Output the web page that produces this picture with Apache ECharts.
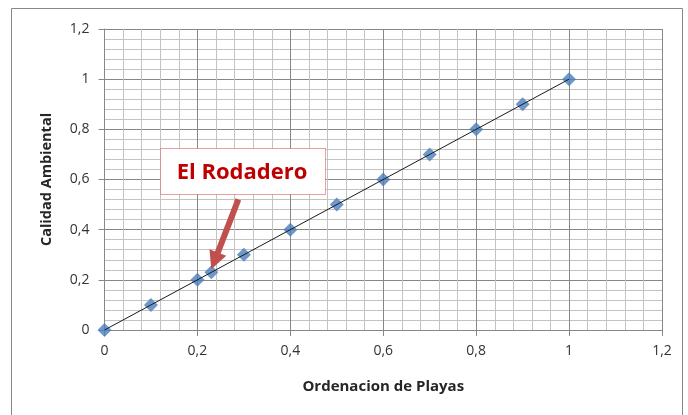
<!DOCTYPE html>
<html>
<head>
<meta charset="utf-8">
<script src="https://cdn.jsdelivr.net/npm/echarts@6/dist/echarts.min.js"></script>
<style>
  html, body { margin: 0; padding: 0; background: #fff; }
  #chart { width: 688px; height: 415px; }
</style>
</head>
<body>
<div id="chart"></div>
<script>
  // playas: x = ordenacion, y = calidad ambiental
  var ordenacion = [0, 0.1, 0.2, 0.23, 0.3, 0.4, 0.5, 0.6, 0.7, 0.8, 0.9, 1];
  var calidad    = [0, 0.1, 0.2, 0.23, 0.3, 0.4, 0.5, 0.6, 0.7, 0.8, 0.9, 1];
  var tendencia  = [[0, 0], [1, 1]];
  var rodadero   = [0.23, 0.23];

  var font = '"Open Sans", "Liberation Sans", sans-serif';
  var fmt = function (v) { return String(Math.round(v * 10) / 10).replace('.', ','); };

  var puntos = ordenacion.map(function (x, i) { return [x, calidad[i]]; });

  var axisCommon = {
    type: 'value',
    min: 0,
    max: 1.2,
    interval: 0.2,
    axisLine: { show: true, lineStyle: { color: '#878787', width: 1 } },
    axisTick: { show: true, length: 6, lineStyle: { color: '#878787' } },
    minorTick: { show: false, splitNumber: 5 },
    splitLine: { show: true, lineStyle: { color: '#878787', width: 1 } },
    minorSplitLine: { show: true, lineStyle: { color: '#c3c3c3', width: 1 } },
    axisLabel: { color: '#333', fontFamily: font, fontSize: 14, formatter: fmt },
    nameTextStyle: { color: '#262626', fontFamily: font, fontWeight: 'bold' }
  };

  var chart = echarts.init(document.getElementById('chart'));
  chart.setOption({
    animation: false,
    grid: { left: 104.5, right: 26, top: 29, bottom: 85 },
    xAxis: Object.assign({}, axisCommon, {
      name: 'Ordenacion de Playas',
      nameLocation: 'middle',
      nameGap: 49,
      nameTextStyle: Object.assign({}, axisCommon.nameTextStyle, { fontSize: 15 }),
      axisLabel: Object.assign({}, axisCommon.axisLabel, { margin: 14 })
    }),
    yAxis: Object.assign({}, axisCommon, {
      name: 'Calidad Ambiental',
      nameLocation: 'middle',
      nameGap: 50,
      nameTextStyle: Object.assign({}, axisCommon.nameTextStyle, { fontSize: 14.5 }),
      axisLabel: Object.assign({}, axisCommon.axisLabel, { margin: 15 })
    }),
    series: [
      {
        type: 'scatter',
        data: puntos,
        symbol: 'diamond',
        symbolSize: 14,
        itemStyle: { color: '#4a7ebb' },
        z: 2
      },
      {
        type: 'line',
        data: tendencia,
        showSymbol: false,
        lineStyle: { color: '#1a1a1a', width: 1 },
        z: 3
      }
    ]
  });

  var tip = chart.convertToPixel({ gridIndex: 0 }, rodadero);
  var tx = tip[0], ty = tip[1] - 3;
  var bx = tx + 27, by = ty - 70;
  var dx = tx - bx, dy = ty - by, len = Math.sqrt(dx * dx + dy * dy);
  var ux = dx / len, uy = dy / len, px = -uy, py = ux;
  var hl = 18, hw = 9;
  var hx = tx - ux * hl, hy = ty - uy * hl;

  chart.setOption({
    graphic: [
      {
        type: 'rect',
        shape: { x: 11.5, y: 8.5, width: 671, height: 420 },
        style: { fill: 'none', stroke: '#878787', lineWidth: 1 },
        silent: true
      },
      {
        type: 'rect',
        shape: { x: 160.5, y: 148.5, width: 165, height: 46 },
        style: { fill: '#fff', stroke: '#d04040', lineWidth: 1, lineDash: [1, 1] },
        z: 100
      },
      {
        type: 'text',
        x: 242, y: 173,
        style: {
          text: 'El Rodadero',
          fill: '#c00000',
          font: 'bold 22px ' + font,
          align: 'center',
          verticalAlign: 'middle'
        },
        z: 101
      },
      {
        type: 'line',
        shape: { x1: bx, y1: by, x2: hx + ux * 2, y2: hy + uy * 2 },
        style: { stroke: '#c0504d', lineWidth: 6 },
        z: 100
      },
      {
        type: 'polygon',
        shape: { points: [[tx, ty], [hx + px * hw, hy + py * hw], [hx - px * hw, hy - py * hw]] },
        style: { fill: '#c0504d' },
        z: 100
      }
    ]
  });
</script>
</body>
</html>
